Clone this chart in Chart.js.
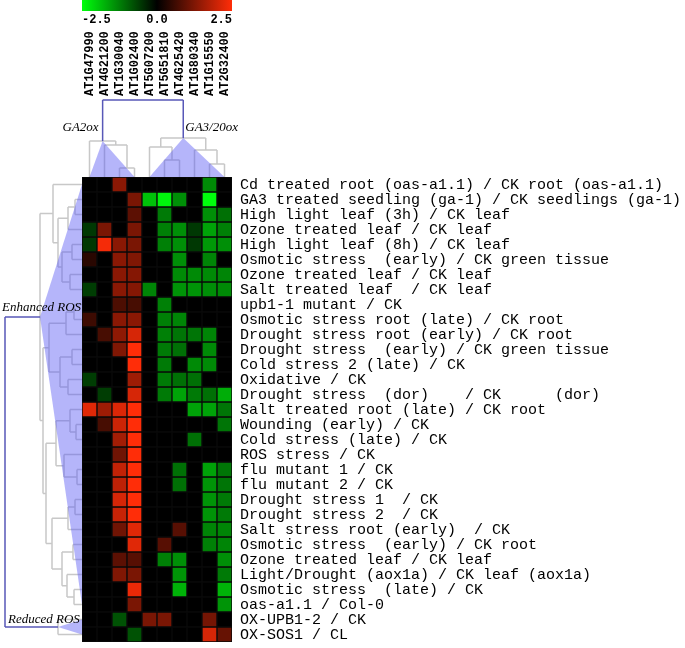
<!DOCTYPE html>
<html>
<head>
<meta charset="utf-8">
<script src="https://cdn.jsdelivr.net/npm/chart.js@4"></script>
<style>
  body { margin: 0; background: #fff; }
  canvas { display: block; }
</style>
</head>
<body>
<canvas id="heatmap" width="685" height="648"></canvas>
<script>
// Genes (columns)
const genes = ['AT1G47990', 'AT4G21200', 'AT1G30040', 'AT1G02400', 'AT5G07200',
  'AT5G51810', 'AT4G25420', 'AT1G80340', 'AT1G15550', 'AT2G32400'];

// Conditions (rows)
const conditions = [
  'Cd treated root (oas-a1.1) / CK root (oas-a1.1)',
  'GA3 treated seedling (ga-1) / CK seedlings (ga-1)',
  'High light leaf (3h) / CK leaf',
  'Ozone treated leaf / CK leaf',
  'High light leaf (8h) / CK leaf',
  'Osmotic stress  (early) / CK green tissue',
  'Ozone treated leaf / CK leaf',
  'Salt treated leaf  / CK leaf',
  'upb1-1 mutant / CK',
  'Osmotic stress root (late) / CK root',
  'Drought stress root (early) / CK root',
  'Drought stress  (early) / CK green tissue',
  'Cold stress 2 (late) / CK',
  'Oxidative / CK',
  'Drought stress  (dor)    / CK      (dor)',
  'Salt treated root (late) / CK root',
  'Wounding (early) / CK',
  'Cold stress (late) / CK',
  'ROS stress / CK',
  'flu mutant 1 / CK',
  'flu mutant 2 / CK',
  'Drought stress 1  / CK',
  'Drought stress 2  / CK',
  'Salt stress root (early)  / CK',
  'Osmotic stress  (early) / CK root',
  'Ozone treated leaf / CK leaf',
  'Light/Drought (aox1a) / CK leaf (aox1a)',
  'Osmotic stress  (late) / CK',
  'oas-a1.1 / Col-0',
  'OX-UPB1-2 / CK',
  'OX-SOS1 / CL',
];

// log ratios, one row per condition, one value per gene
const expression = [
  [0, 0, 1.35, 0, 0, 0, 0, 0, -1.35, 0],
  [0, 0, 0, 1.2, -1.9, -2.4, -1.4, 0, -2.5, 0],
  [0, 0, 0, 0.9, 0, -1.2, 0, 0, -1.4, -1.1],
  [-0.55, 1.2, 0, 1.2, 0, -1.25, -1.4, -0.55, -1.6, -1.25],
  [-0.55, 2.4, 1.35, 1.2, 0, -1.25, -1.4, -0.55, -1.5, -1.4],
  [0.4, 0, 1.35, 1.25, 0, 0, -1.4, 0, -1.3, 0],
  [0, 0, 1.35, 1.3, 0, 0, -1.35, -1.35, -1.35, -1.3],
  [-0.6, 0, 1.35, 1.3, -1.3, 0, -1.45, -1.45, -1.4, -1.35],
  [0, 0, 0.75, 0.7, 0, -1.25, 0, 0, 0, 0],
  [0.6, 0, 1.35, 1.35, 0, -1.25, -1.3, 0, 0, 0],
  [0, 0.7, 1.4, 2.1, 0, -1.25, -1.15, -1.15, -1.3, 0],
  [0, 0, 1.25, 2.5, 0, -1.2, -1.1, 0, -1.35, 0],
  [0, 0, 0, 2.5, 0, -1.2, 0, -1.35, -1.35, 0],
  [-0.6, 0, 0, 1.55, 0, -1.2, -1.1, -1.1, 0, 0],
  [0, -0.6, 0, 2.1, 0, -1.2, -1.6, -1.2, -1.1, -1.7],
  [2.2, 1.55, 2.15, 2.5, 0, 0, 0, -1.6, -1.6, -1.15],
  [0, 0.7, 2.0, 2.5, 0, 0, 0, 0, 0, -1.15],
  [0, 0, 1.6, 2.5, 0, 0, 0, -1.1, 0, 0],
  [0, 0, 1.1, 2.5, 0, 0, 0, 0, 0, 0],
  [0, 0, 1.9, 2.5, 0, 0, -1.1, 0, -1.6, -1.15],
  [0, 0, 1.85, 2.5, 0, 0, -1.1, 0, -1.45, -1.15],
  [0, 0, 2.1, 2.5, 0, 0, 0, 0, -1.45, -1.2],
  [0, 0, 1.95, 2.5, 0, 0, 0, 0, -1.45, -1.2],
  [0, 0, 1.1, 2.2, 0, 0, 0.85, 0, -1.3, -1.3],
  [0, 0, 0, 2.2, 0, 0.85, 0, 0, -1.25, -1.3],
  [0, 0, 0.9, 0.85, 0, -1.25, -1.4, 0, 0, -1.4],
  [0, 0, 1.25, 1.2, 0, 0, -1.45, 0, 0, -1.2],
  [0, 0, 0, 2.3, 0, 0, -1.75, 0, 0, -1.75],
  [0, 0, 0, 1.2, 0, 0, 0, 0, 0, -1.45],
  [0, 0, -0.8, 0, 1.2, 1.2, 0, 0, 1.15, 0],
  [0, 0, 0, -0.8, 0, 0, 0, 0, 2.1, 1.0],
];

// colour key
const scaleTicks = [-2.5, 0.0, 2.5];

// dendrograms: [distance, left, right], leaves are indices
const colTree = [77,
  [36, 0, [32, 1, [9, 2, 3]]],
  [39, [30, 4, [17, 5, 6]], [27, 7, [13, 8, 9]]]];
const rowTree = [77,
  [42,
    [29, 0, [24, [14, [7, 1, 2], 3], [20, [10, 4, 5], [12, 6, 7]]]],
    [39,
      [33, [16, [8, 8, 9], 10], [22, [10, 11, 12], [14, 13, 14]]],
      [36,
        [26, [12, 15, [6, 16, 17]], [18, 18, [5, 19, 20]]],
        [30, [14, [7, 21, 22], 23], [20, [9, 24, 25], [15, 26, [8, 27, 28]]]]]]],
  [24, 29, 30]];
const colGroups = ['GA2ox', 'GA3/20ox'];
const rowGroups = ['Enhanced ROS', 'Reduced ROS'];

function cellColor(v) {
  const t = Math.min(1, Math.abs(v) / 2.5);
  if (v >= 0) return `rgb(${Math.round(255 * t)},${Math.round(45 * t)},${Math.round(8 * t)})`;
  return `rgb(0,${Math.round(255 * t)},${Math.round(12 * t)})`;
}

function layoutTree(node, leafPos) {
  if (typeof node === 'number') return { p: leafPos(node), h: 0, first: node, last: node };
  const a = layoutTree(node[1], leafPos);
  const b = layoutTree(node[2], leafPos);
  return { p: (a.p + b.p) / 2, h: node[0], a, b, first: a.first, last: b.last };
}

function strokeNode(ctx, t, pt) {
  [t.a, t.b].forEach((c) => {
    const p0 = pt(c.p, c.h), p1 = pt(c.p, t.h);
    ctx.moveTo(p0[0], p0[1]);
    ctx.lineTo(p1[0], p1[1]);
  });
  const q0 = pt(t.a.p, t.h), q1 = pt(t.b.p, t.h);
  ctx.moveTo(q0[0], q0[1]);
  ctx.lineTo(q1[0], q1[1]);
}

function strokeTree(ctx, t, pt) {
  if (!t.a) return;
  strokeNode(ctx, t, pt);
  strokeTree(ctx, t.a, pt);
  strokeTree(ctx, t.b, pt);
}

function drawDendrogram(ctx, tree, leafPos, pt) {
  const root = layoutTree(tree, leafPos);
  // grey sub-trees
  ctx.save();
  ctx.strokeStyle = '#c8c8c8';
  ctx.lineWidth = 1.5;
  ctx.beginPath();
  strokeTree(ctx, root.a, pt);
  strokeTree(ctx, root.b, pt);
  ctx.stroke();
  // blue triangles over each group
  ctx.fillStyle = 'rgba(90, 90, 245, 0.45)';
  [root.a, root.b].forEach((g) => {
    const apex = pt(g.p, g.h);
    const s = pt(leafPos(g.first), 0);
    const e = pt(leafPos(g.last), 0);
    ctx.beginPath();
    ctx.moveTo(apex[0], apex[1]);
    ctx.lineTo(s[0], s[1]);
    ctx.lineTo(e[0], e[1]);
    ctx.closePath();
    ctx.fill();
  });
  // blue bracket joining the groups
  ctx.strokeStyle = '#5858b8';
  ctx.lineWidth = 1.5;
  ctx.beginPath();
  strokeNode(ctx, root, pt);
  ctx.stroke();
  ctx.restore();
  return root;
}

const heatmapDecor = {
  id: 'heatmapDecor',
  afterDraw(chart) {
    const { ctx, chartArea } = chart;
    const xs = chart.scales.x;
    const ys = chart.scales.y;
    const colPos = (j) => xs.getPixelForValue(j);
    const rowPos = (i) => ys.getPixelForValue(i + 0.5);

    // colour key
    const grad = ctx.createLinearGradient(chartArea.left, 0, chartArea.right, 0);
    grad.addColorStop(0, cellColor(-2.5));
    grad.addColorStop(0.5, '#000');
    grad.addColorStop(1, cellColor(2.5));
    ctx.fillStyle = grad;
    ctx.fillRect(chartArea.left, 0, chartArea.right - chartArea.left, 11);

    ctx.fillStyle = '#000';
    ctx.font = 'bold 12px "Liberation Mono"';
    ctx.textBaseline = 'middle';
    scaleTicks.forEach((v, k) => {
      const x = chartArea.left + (v + 2.5) / 5 * (chartArea.right - chartArea.left);
      ctx.textAlign = k === 0 ? 'left' : k === scaleTicks.length - 1 ? 'right' : 'center';
      ctx.fillText(v.toFixed(1), x, 20);
    });

    // gene names, vertical
    genes.forEach((g, j) => {
      ctx.save();
      ctx.translate(colPos(j) + 0.5, 96);
      ctx.rotate(-Math.PI / 2);
      ctx.textAlign = 'left';
      ctx.textBaseline = 'middle';
      ctx.fillText(g, 0, 0);
      ctx.restore();
    });

    // condition names
    ctx.font = '15px "Liberation Mono"';
    ctx.textAlign = 'left';
    ctx.textBaseline = 'middle';
    conditions.forEach((c, i) => ctx.fillText(c, chartArea.right + 8, rowPos(i) + 1));

    // dendrograms
    const colRoot = drawDendrogram(ctx, colTree, colPos, (p, h) => [p, chartArea.top - h]);
    const rowRoot = drawDendrogram(ctx, rowTree, rowPos, (p, h) => [chartArea.left - h, p]);

    // group labels
    ctx.font = 'italic 13px "Liberation Serif"';
    ctx.textBaseline = 'alphabetic';
    ctx.textAlign = 'right';
    ctx.fillText(colGroups[0], colRoot.a.p - 4, chartArea.top - 46);
    ctx.textAlign = 'left';
    ctx.fillText(colGroups[1], colRoot.b.p + 2, chartArea.top - 46);
    ctx.fillText(rowGroups[0], 2, rowRoot.a.p - 6);
    ctx.fillText(rowGroups[1], 8, rowRoot.b.p - 4);
  },
};

const chart = new Chart(document.getElementById('heatmap'), {
  type: 'bar',
  data: {
    labels: genes,
    datasets: conditions.map((c, i) => ({
      label: c,
      data: genes.map(() => [i, i + 1]),
      backgroundColor: expression[i].map(cellColor),
      borderColor: '#0a0a0a',
      borderWidth: 1,
      borderSkipped: false,
      grouped: false,
      barPercentage: 1,
      categoryPercentage: 1,
    })),
  },
  options: {
    responsive: false,
    animation: false,
    layout: { padding: { left: 82, top: 177, right: 453, bottom: 6 } },
    plugins: { legend: { display: false }, tooltip: { enabled: false } },
    scales: {
      x: { display: false, grid: { display: false } },
      y: { display: false, min: 0, max: conditions.length, reverse: true, grid: { display: false } },
    },
  },
  plugins: [heatmapDecor],
});
</script>
</body>
</html>
